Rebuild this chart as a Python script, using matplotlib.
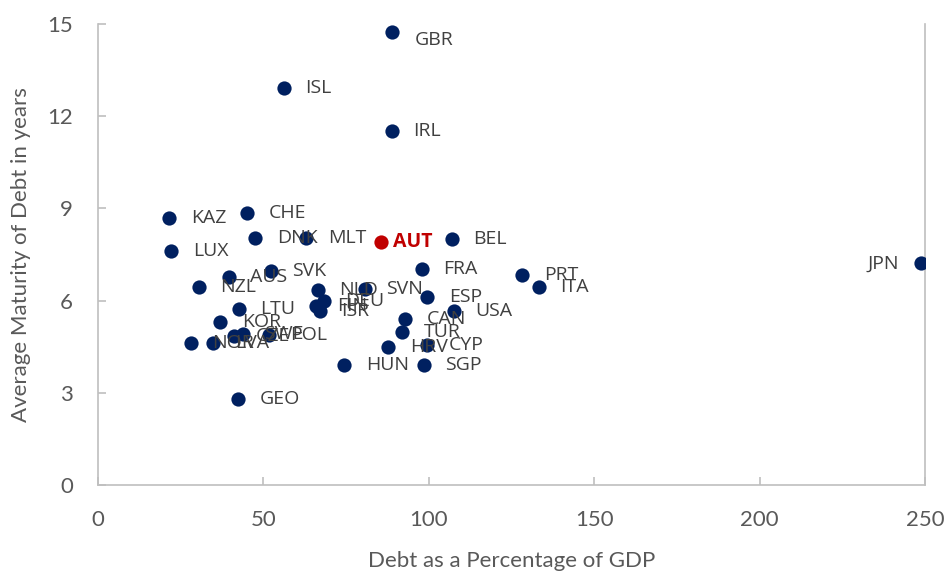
import matplotlib
matplotlib.use("Agg")
import matplotlib.pyplot as plt

# ---- data ----
countries = ["GBR", "ISL", "IRL", "KAZ", "CHE", "DNK", "MLT", "BEL", "LUX", "JPN",
             "FRA", "PRT", "ITA", "SVK", "AUS", "NZL", "NLD", "SVN", "DEU", "ESP",
             "FIN", "ISR", "LTU", "USA", "CAN", "KOR", "TUR", "CZE", "SWE", "POL",
             "NOR", "LVA", "HRV", "CYP", "HUN", "SGP", "GEO"]
debt_pct_gdp = [88.9, 56.2, 88.9, 21.5, 45.0, 47.5, 63.0, 107.0, 22.1, 248.9,
                97.9, 128.3, 133.2, 52.2, 39.5, 30.5, 66.5, 80.7, 68.2, 99.5,
                65.9, 67.1, 42.5, 107.6, 92.8, 37.0, 92.0, 41.1, 43.8, 51.7,
                28.0, 34.8, 87.7, 99.5, 74.4, 98.4, 42.3]
avg_maturity = [14.74, 12.92, 11.52, 8.70, 8.85, 8.04, 8.05, 8.01, 7.60, 7.21,
                7.03, 6.83, 6.43, 6.95, 6.76, 6.43, 6.35, 6.39, 5.99, 6.12,
                5.82, 5.66, 5.73, 5.66, 5.40, 5.30, 4.98, 4.85, 4.91, 4.88,
                4.62, 4.62, 4.49, 4.56, 3.90, 3.90, 2.80]

highlight_country = "AUT"
highlight_debt = 85.6
highlight_maturity = 7.91

x_ticks = [0, 50, 100, 150, 200, 250]
y_ticks = [0, 3, 6, 9, 12, 15]

# ---- style ----
NAVY = "#002060"
RED = "#C00000"
LABEL_COL = "#404040"
TICK_COL = "#595959"
SPINE_COL = "#BFBFBF"

fig = plt.figure(figsize=(9.48, 5.75), dpi=100)
ax = fig.add_axes([98 / 948, 1 - 485 / 575, 827 / 948, 461 / 575])

ax.scatter(debt_pct_gdp, avg_maturity, s=105, color=NAVY, zorder=3, linewidths=0)
ax.scatter([highlight_debt], [highlight_maturity], s=105, color=RED, zorder=3, linewidths=0)

special_offsets = {"JPN": (-16, 0, "right"), "GBR": (16, -6, "left")}
for name, xv, yv in zip(countries, debt_pct_gdp, avg_maturity):
    dx, dy, ha = special_offsets.get(name, (15.5, 0, "left"))
    ax.annotate(name, (xv, yv), xytext=(dx, dy), textcoords="offset points",
                ha=ha, va="center", fontsize=14, family="Open Sans",
                color=LABEL_COL, zorder=4)
ax.annotate(highlight_country, (highlight_debt, highlight_maturity), xytext=(8.5, 0),
            textcoords="offset points", ha="left", va="center", fontsize=14,
            family="Open Sans", fontweight="bold", color=RED, zorder=4)

ax.set_xlim(0, 250)
ax.set_ylim(0, 15)
ax.set_xticks(x_ticks)
ax.set_yticks(y_ticks)
ax.set_xticklabels([str(t) for t in x_ticks])
ax.set_yticklabels([str(t) for t in y_ticks])

for lbl in ax.get_xticklabels() + ax.get_yticklabels():
    lbl.set_family("Lato")
    lbl.set_fontsize(16)
    lbl.set_color(TICK_COL)

ax.tick_params(axis="both", direction="in", length=6, width=1.2, color=SPINE_COL, pad=18)

ax.spines["top"].set_visible(False)
for side in ["left", "bottom", "right"]:
    ax.spines[side].set_color(SPINE_COL)
    ax.spines[side].set_linewidth(1.2)

ax.set_xlabel("Debt as a Percentage of GDP", family="Lato", fontsize=16, color=TICK_COL)
ax.set_ylabel("Average Maturity of Debt in years", family="Lato", fontsize=16, color=TICK_COL)
ax.xaxis.set_label_coords(0.5, -0.143)
ax.yaxis.set_label_coords(-0.081, 0.5)

fig.savefig("out.png", dpi=100)
